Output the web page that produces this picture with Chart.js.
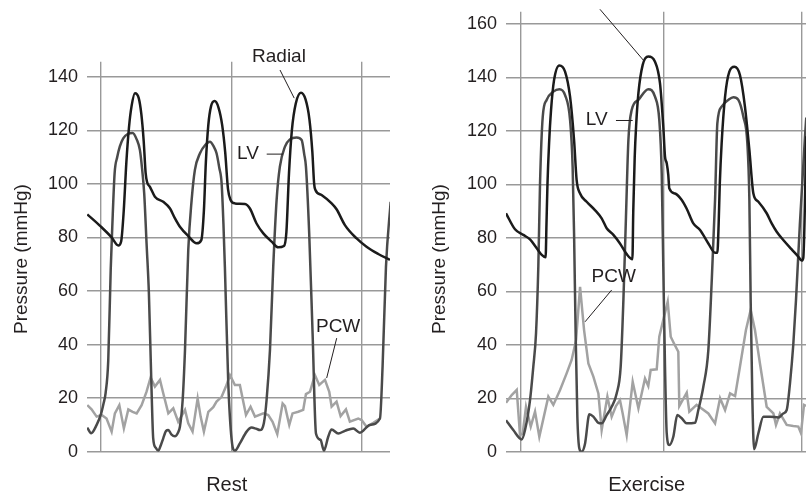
<!DOCTYPE html>
<html>
<head>
<meta charset="utf-8">
<title>Pressure traces at rest and during exercise</title>
<script src="https://cdn.jsdelivr.net/npm/chart.js@4.4.1/dist/chart.umd.min.js"></script>
<style>
  html, body { margin: 0; padding: 0; background: #fff; }
  #wrap { position: relative; width: 806px; height: 496px; overflow: hidden; }
  #rest { position: absolute; left: 0; top: 0; width: 400px; height: 496px; }
  #exercise { position: absolute; left: 400px; top: 0; width: 406px; height: 496px; }
</style>
</head>
<body>
<div id="wrap">
  <canvas id="rest" width="400" height="496"></canvas>
  <canvas id="exercise" width="406" height="496"></canvas>
</div>
<script>
// time in arbitrary units (one vertical grid division = 100), pressure in mmHg
// [time, pressure] samples

// ---- Rest ----
const restRadial = [[-10.5,88.6],[0,84],[8.2,80],[13.3,77],[15.5,78.5],[17.5,90],[19.5,108],[21.5,121],[23.5,129],[26.1,133.8],[29,132],[31,126],[32.8,116],[34.3,104],[35.5,100.5],[37.6,98.9],[41.4,95.2],[47.8,93.3],[53,90.8],[56.8,87.1],[60.6,84],[67,80.5],[73.4,77.8],[77,79],[79,90],[80.5,108],[82.4,122],[84.5,129],[87.2,130.9],[90.2,128.5],[93,122],[95.3,112],[97.5,98],[99.5,94],[102.8,92.7],[110.5,92.5],[114.3,90.8],[119.4,85.2],[124.6,81.5],[131,78.4],[136,76.3],[140.4,76.8],[142.3,82],[144.3,104],[146.5,120],[149.5,130],[153.5,134],[157,131.5],[160,124],[162.2,112],[163.6,100],[164.5,97.8],[169.3,95.8],[177,92.7],[180.8,90.5],[187.2,84.6],[196.2,79.6],[203.8,76.5],[212.8,73.8],[221.7,71.6]];

const restLV = [[-10.5,9],[-7.5,6.9],[-3.3,10],[0,14],[2,18],[3.6,22],[5.6,34],[7.5,68],[8.7,84],[10.5,104],[12.5,110],[14.5,114],[17.1,117],[20.5,118.6],[24.3,119],[27.5,116.5],[29.9,112.6],[31.5,106],[33.2,96.4],[35,77.8],[36.8,59],[38.9,21.8],[40.1,5],[42,1.5],[44,0.4],[46,2.5],[47.8,5],[50,7.8],[51.7,8.1],[54,6.5],[56.8,5.8],[59,7],[60.6,9.3],[62.7,19.3],[64.5,38],[67,75.3],[69.6,94],[72.1,105.2],[76,111.4],[80,114.5],[83.6,115.7],[86.5,114],[88.7,111.4],[90.8,106],[92.6,100.2],[94,85],[95.1,69],[97.7,25.5],[100.3,4.4],[102.8,0.4],[106.6,3.1],[111.8,7.5],[115.6,9],[119,8.6],[122,8.1],[125,10.6],[127.1,19.3],[129.7,38],[132.2,69],[134.8,94],[137.3,106.4],[141.2,113.9],[145,116.6],[150.1,117.3],[154,116.4],[156,111],[157.3,106.4],[159.8,81.5],[162.4,44.2],[165,6.8],[168.5,4.4],[171.1,0.4],[174.4,5.6],[177,8.3],[182.1,6.8],[187.2,7.8],[193.6,8.7],[198.7,7.1],[206.4,10],[214.1,12.4],[216.1,31.7],[218.7,69],[222.3,93.3]];

const restPCW = [[-10.5,17.4],[-7.2,15.8],[-3.3,13.1],[0.5,13.7],[4.3,12.4],[8.2,7.5],[10.7,14.3],[14.1,17.4],[17.6,8.7],[21,15.8],[24.3,14.9],[27.4,14.3],[31.2,17.4],[35,22.4],[38.1,27.7],[41.4,24.3],[45.3,26.8],[47.8,21.8],[51.7,14.3],[55.5,16.2],[59.3,11.2],[64.5,15.6],[67,10.6],[70.3,7.5],[74.2,19.9],[76.5,13.1],[79,7.5],[82.4,14.9],[86.2,16.6],[88.7,18.7],[92.6,20.5],[95.9,24.3],[99,28.6],[102.8,24.9],[106.6,24.9],[111.3,13.7],[114.8,16.8],[118.2,13.1],[124.6,14.3],[128.4,13.7],[131.7,11.2],[135.3,6.6],[139.4,18],[141.2,17],[144.5,10],[147,14.3],[151.4,14.9],[155.2,15.6],[157.3,21.5],[160.4,22.4],[164.2,28.6],[167.5,24.9],[171.9,26.8],[175.2,22.4],[177,16.8],[180.8,18.7],[183.9,13.3],[188,15.8],[191,11.2],[197.4,12.4],[200,11.8],[203.8,9.3],[209,10.8],[214.1,12.4]];

const restTimeGrid = [0, 100, 200];
const restPressureMax = 145.6;

// ---- Exercise ----
const exRadial = [[-10.5,89.2],[-4.2,83.2],[1.6,81.1],[6.3,79.4],[11,76.1],[14.5,73.6],[17.2,72.7],[17.8,85],[18.5,100],[19.6,115],[21,127.8],[23.1,139],[26.8,144.5],[30.8,142.2],[34.3,132.8],[37.1,116.6],[38.9,101.6],[41.3,96.6],[45.9,93.5],[51.7,90.4],[56.4,87.3],[59.9,83.6],[64.6,81.1],[69.2,77.9],[73.9,73.9],[77.9,72],[78.5,90],[79.5,110],[80.5,122],[82.1,134.1],[85.1,144.7],[89,147.8],[93.7,145.9],[97.2,137.8],[99.5,121.6],[100.7,110.4],[101.9,107.9],[103,103.5],[103.7,98.5],[107.7,96.6],[112.4,94.2],[115.8,91],[120.5,85.4],[125.2,82.9],[131,77.9],[135.7,74.4],[137.3,74.4],[138.2,85],[139,100],[140.3,115.3],[142.7,132.8],[145.7,142.2],[149.2,144],[153.1,140.9],[156.6,129.1],[159.7,112.9],[162.5,96.6],[166,93.5],[171.8,89.2],[175.3,85.4],[178.8,82.3],[183.4,79.2],[189.3,75.7],[193.9,73],[196.3,71.5],[197.4,72.5],[199.5,118]];

const exLV = [[-10.5,11.8],[-5.4,8.1],[0.5,4.6],[2.8,8.1],[6.3,19.3],[8.6,31.8],[10.5,44.3],[12.1,69.2],[13.3,100.4],[15.2,125.3],[17.9,131.6],[22.6,134.7],[26.8,135.6],[30.8,133.4],[34.3,124.1],[36.1,106.6],[37.1,81.7],[38.2,44.3],[39.4,13.1],[40.8,1.2],[42.4,0],[44.8,3.1],[47.8,14],[50.6,13.1],[54.1,10.8],[56.4,10.6],[59.9,13.7],[63.4,16.8],[66.9,21.8],[69.7,31.8],[71.6,56.7],[73.4,87.9],[75.1,116.6],[77.4,127.8],[82.1,131.6],[89,135.6],[93.7,132.8],[96.7,124.1],[98.4,104.1],[99.5,69.2],[100.7,31.8],[101.9,6.9],[103.7,2.5],[106.5,5.6],[109.3,13.7],[112.4,12.5],[115.8,10.6],[121.7,10.8],[124,15.6],[127.5,24.3],[131,38],[133.3,63],[135.7,94.2],[137.3,122.8],[140.3,129.1],[145,131.6],[148.5,132.6],[152,131.6],[155.5,125.3],[158.3,115.3],[159.7,94.2],[160.6,56.7],[161.8,19.3],[163,0.9],[166,6.9],[169.5,13.1],[174.1,13.1],[180,12.8],[183.4,14.3],[185.8,15.6],[188.1,25.6],[190.4,40],[192.3,56.7],[195,85],[198.6,118],[199.5,125]];

const exPCW = [[-10.5,18.3],[-6.5,21.2],[-3,23.1],[-0.7,6.2],[1.2,6.9],[3.5,16.8],[6.8,9.4],[9.8,15],[12.8,5.6],[19.1,20.6],[22.6,17.5],[27.3,23.1],[31.9,29.3],[35.4,34.3],[38.5,41.8],[41.3,61.7],[44.1,45.5],[47.1,33],[50.6,28.1],[54.1,21.8],[56.4,8.1],[60.4,20.6],[63.4,13.1],[66.4,17.1],[69.2,19.3],[71.1,14.3],[73.9,6.2],[78.1,26.2],[82.1,16.2],[86.7,27.4],[89,24.6],[90.7,30.6],[94.9,30.8],[96.7,43],[99.5,49.3],[102.6,56.1],[104.7,43],[107,40.5],[110,37.4],[110.7,17.1],[115.9,22.1],[117.7,15],[122.8,17.5],[126.3,16.2],[131,14.3],[135.7,10.6],[139.2,20],[142.7,15.6],[146.2,21.8],[149.7,20.8],[153.1,31.8],[157.3,45.5],[160.6,53],[163.6,45.5],[167.1,33],[171.8,16.8],[176.5,14.3],[178.3,10],[181.1,14.3],[185.8,10],[190.4,9.6],[193.9,9.4],[195.8,6.9],[197.9,17.5],[199.3,17.1]];

const exTimeGrid = [0, 100, 196];
const exPressureMax = 164.6;

const FONT = '"Liberation Sans", Arial, Helvetica, sans-serif';
const INK = '#231f20';

// free text, leader lines and axis titles
const panelText = {
  id: 'panelText',
  afterDatasetsDraw(chart, args, opts) {
    const ctx = chart.ctx;
    const xs = chart.scales.x, ys = chart.scales.y;
    ctx.save();
    ctx.strokeStyle = INK;
    ctx.fillStyle = INK;
    ctx.lineWidth = 1;
    opts.leaders.forEach(l => {
      ctx.beginPath();
      ctx.moveTo(xs.getPixelForValue(l[0]), ys.getPixelForValue(l[1]));
      ctx.lineTo(xs.getPixelForValue(l[2]), ys.getPixelForValue(l[3]));
      ctx.stroke();
    });
    ctx.textAlign = 'center';
    ctx.textBaseline = 'middle';
    ctx.font = '19px ' + FONT;
    opts.labels.forEach(l => {
      ctx.fillText(l.text, xs.getPixelForValue(l.t), ys.getPixelForValue(l.p));
    });
    ctx.font = '20px ' + FONT;
    ctx.fillText(opts.xTitle, opts.xTitleAt[0], opts.xTitleAt[1]);
    ctx.translate(opts.yTitleAt[0], opts.yTitleAt[1]);
    ctx.rotate(-Math.PI / 2);
    ctx.font = '19px ' + FONT;
    ctx.fillText('Pressure (mmHg)', 0, 0);
    ctx.restore();
  }
};

function trace(label, pts, color, smooth) {
  return {
    label: label,
    data: pts.map(p => ({x: p[0], y: p[1]})),
    borderColor: color,
    borderWidth: 2.5,
    pointRadius: 0,
    fill: false,
    tension: smooth ? 0.4 : 0,
    cubicInterpolationMode: smooth ? 'monotone' : 'default'
  };
}

function makePanel(id, radial, lv, pcw, grid, tmin, tmax, pmax, axisWidth, top, right, text) {
  return new Chart(document.getElementById(id), {
    type: 'line',
    data: {
      datasets: [
        trace('Radial', radial, '#1b1b1b', true),
        trace('LV', lv, '#4a4a4a', true),
        trace('PCW', pcw, '#a2a2a2', false)
      ]
    },
    options: {
      responsive: false,
      animation: false,
      layout: { padding: { left: 0, top: top, right: right, bottom: 0 } },
      plugins: {
        legend: { display: false },
        tooltip: { enabled: false },
        panelText: text
      },
      scales: {
        x: {
          type: 'linear',
          min: tmin,
          max: tmax,
          border: { display: false },
          grid: { color: '#999', lineWidth: 1.4, drawTicks: false },
          ticks: { display: false },
          afterBuildTicks: s => { s.ticks = grid.map(v => ({value: v})); },
          afterFit: s => { s.height = 44.3; s.paddingLeft = 0; s.paddingRight = 0; }
        },
        y: {
          min: 0,
          max: pmax,
          border: { display: false },
          grid: { color: '#999', lineWidth: 1.4, drawTicks: false },
          ticks: {
            stepSize: 20,
            includeBounds: false,
            padding: 9,
            color: INK,
            font: { family: FONT, size: 18 }
          },
          afterFit: s => { s.width = axisWidth; s.paddingTop = 0; s.paddingBottom = 0; }
        }
      }
    },
    plugins: [panelText]
  });
}

makePanel('rest', restRadial, restLV, restPCW, restTimeGrid, -10.7, 221.8, restPressureMax, 87, 61.7, 10, {
  labels: [
    {text: 'Radial', t: 136.6, p: 147.3},
    {text: 'LV', t: 112.8, p: 111.1},
    {text: 'PCW', t: 182, p: 46.5}
  ],
  leaders: [
    [137.4, 142.5, 148.3, 132],
    [127.2, 111.1, 139.7, 111.1],
    [180.9, 42.4, 173.2, 27.5]
  ],
  xTitle: 'Rest',
  xTitleAt: [226.7, 485],
  yTitleAt: [21.7, 259]
});

makePanel('exercise', exRadial, exLV, exPCW, exTimeGrid, -10.5, 199.3, exPressureMax, 106, 11.7, 0, {
  labels: [
    {text: 'LV', t: 52.9, p: 124.1},
    {text: 'PCW', t: 64.8, p: 65.3}
  ],
  leaders: [
    [55.2, 165.5, 85.5, 146.5],
    [66.4, 123.9, 78.1, 123.9],
    [63.4, 60.5, 44.8, 48.6]
  ],
  xTitle: 'Exercise',
  xTitleAt: [246.7, 485],
  yTitleAt: [40, 259]
});
</script>
</body>
</html>
